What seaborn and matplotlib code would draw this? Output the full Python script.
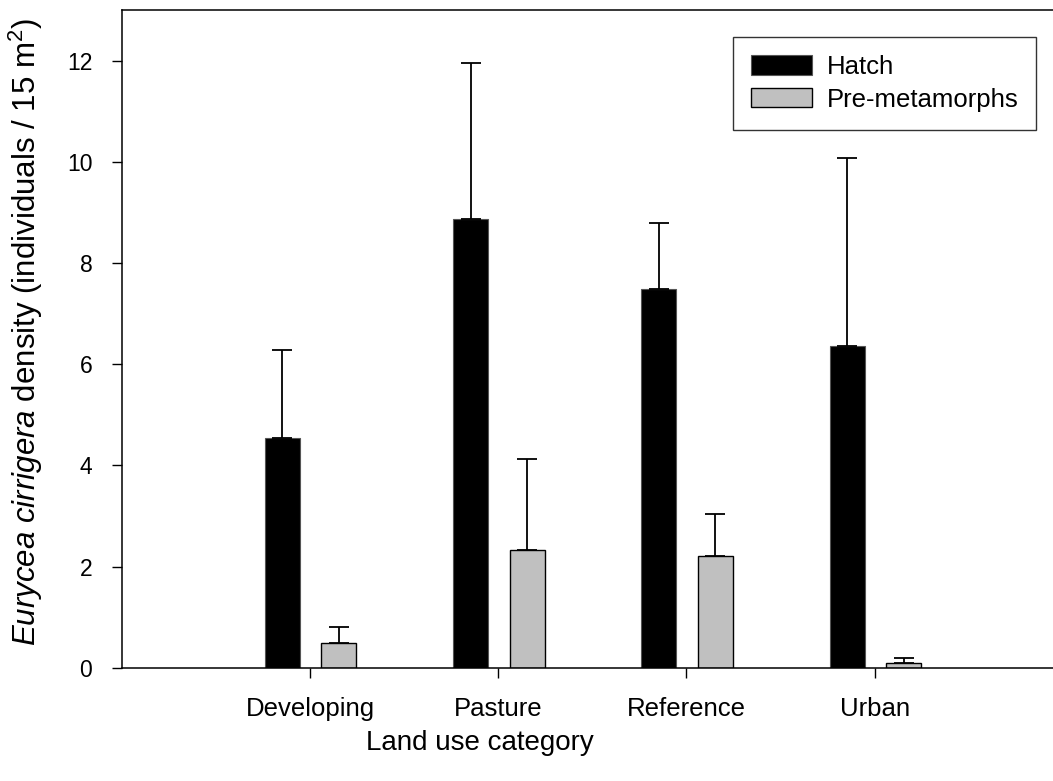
import numpy as np
import matplotlib
matplotlib.use("Agg")
import matplotlib.pyplot as plt
import seaborn as sns
from matplotlib.patches import Patch

# Mean density per land-use category, with the upper standard error
categories = ["Developing", "Pasture", "Reference", "Urban"]
hatch_mean = [4.54, 8.87, 7.49, 6.37]
hatch_err = [1.74, 3.08, 1.31, 3.71]
pre_mean = [0.48, 2.33, 2.20, 0.10]
pre_err = [0.32, 1.80, 0.84, 0.09]
series_labels = ["Hatch", "Pre-metamorphs"]
y_ticks = [0, 2, 4, 6, 8, 10, 12]

sns.set_style("ticks")
plt.rcParams["font.family"] = ["Liberation Sans", "DejaVu Sans"]
plt.rcParams["mathtext.fontset"] = "custom"
plt.rcParams["mathtext.rm"] = "Liberation Sans"
plt.rcParams["mathtext.it"] = "Liberation Sans:italic"
for key in ["text.color", "axes.labelcolor", "xtick.color", "ytick.color"]:
    plt.rcParams[key] = "black"

fig = plt.figure(figsize=(10.53, 7.81), dpi=100)
ax = fig.add_axes([0.1156, 0.1451, 0.8937, 0.8418])

pos = np.arange(1, len(categories) + 1)
x_hatch = pos - 0.146
x_pre = pos + 0.154
bar_w = 0.186

sns.barplot(x=x_hatch, y=hatch_mean, native_scale=True, width=bar_w,
            color="black", saturation=1, edgecolor="#555555", linewidth=0.8,
            errorbar=None, ax=ax)
sns.barplot(x=x_pre, y=pre_mean, native_scale=True, width=bar_w,
            color="#c0c0c0", saturation=1, edgecolor="black", linewidth=1.0,
            errorbar=None, ax=ax)

# one-sided (upper) error bars
zeros = np.zeros(len(categories))
ax.errorbar(x_hatch, hatch_mean, yerr=[zeros, hatch_err], fmt="none",
            ecolor="black", elinewidth=1.3, capsize=7.2, capthick=1.3, zorder=1)
ax.errorbar(x_pre, pre_mean, yerr=[zeros, pre_err], fmt="none",
            ecolor="black", elinewidth=1.3, capsize=7.2, capthick=1.3, zorder=1)

ax.set_xlim(0, 5)
ax.set_ylim(0, 13)
ax.set_xticks(pos)
ax.set_xticklabels(categories, fontsize=18.5)
ax.set_yticks(y_ticks)
ax.set_yticklabels([str(v) for v in y_ticks], fontsize=16.5)
ax.tick_params(axis="both", direction="out", length=7.2, width=1.0, color="black")
ax.tick_params(axis="x", pad=14)
ax.tick_params(axis="y", pad=14)

for side in ["left", "bottom", "top"]:
    ax.spines[side].set_visible(True)
    ax.spines[side].set_linewidth(1.1)
    ax.spines[side].set_color("black")
ax.spines["right"].set_visible(False)

ax.set_ylabel(r"$\it{Eurycea\ cirrigera}$ density (individuals / 15 m$^{2}$)",
              fontsize=22.5)
ax.yaxis.set_label_coords(-0.0815, 0.5107)
ax.set_xlabel("Land use category", fontsize=20)
ax.xaxis.set_label_coords(0.381, -0.095)

handles = [Patch(facecolor="black", edgecolor="#555555", linewidth=0.8),
           Patch(facecolor="#c0c0c0", edgecolor="black", linewidth=1.0)]
leg = ax.legend(handles, series_labels, loc="upper left",
                bbox_to_anchor=(0.650, 0.9594), fontsize=18.5,
                frameon=True, fancybox=False, borderpad=0.7,
                handlelength=2.35, handleheight=0.78, handletextpad=0.58,
                labelspacing=0.34, borderaxespad=0)
leg.get_frame().set_edgecolor("black")
leg.get_frame().set_linewidth(1.0)

fig.savefig("out.png", dpi=100)
